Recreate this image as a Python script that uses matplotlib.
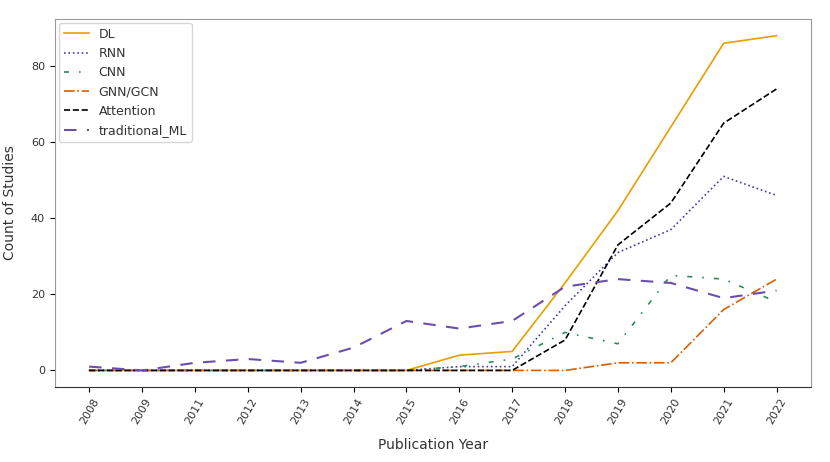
import numpy as np
import matplotlib.pyplot as plt

years = ['2008', '2009', '2011', '2012', '2013', '2014', '2015',
         '2016', '2017', '2018', '2019', '2020', '2021', '2022']

dl = [0, 0, 0, 0, 0, 0, 0, 4, 5, 23, 42, 64, 86, 88]
rnn = [0, 0, 0, 0, 0, 0, 0, 1, 1, 17, 31, 37, 51, 46]
cnn = [0, 0, 0, 0, 0, 0, 0, 1, 3, 10, 7, 25, 24, 18]
gnn = [0, 0, 0, 0, 0, 0, 0, 0, 0, 0, 2, 2, 16, 24]
attention = [0, 0, 0, 0, 0, 0, 0, 0, 0, 8, 33, 44, 65, 74]
trad_ml = [1, 0, 2, 3, 2, 6, 13, 11, 13, 22, 24, 23, 19, 21]

plt.rcParams['text.color'] = '#333333'
plt.rcParams['axes.labelcolor'] = '#333333'
plt.rcParams['xtick.labelcolor'] = '#333333'
plt.rcParams['ytick.labelcolor'] = '#333333'

fig = plt.figure(figsize=(8.3, 4.62), dpi=100)
ax = fig.add_axes([0.066, 0.162, 0.911, 0.797])

x = np.arange(len(years))
ax.plot(x, dl, color='#e69f00', linestyle='-', lw=1.2, label='DL')
ax.plot(x, rnn, color='#4b3bb0', linestyle=':', lw=1.2, label='RNN')
ax.plot(x, cnn, color='#2e8b57', linestyle=(0, (3, 6, 1, 6)), lw=1.2, label='CNN')
ax.plot(x, gnn, color='#d95f02', linestyle='-.', lw=1.2, label='GNN/GCN')
ax.plot(x, attention, color='black', linestyle='--', lw=1.2, label='Attention')
ax.plot(x, trad_ml, color='#6a4fae', linestyle=(0, (6, 5)), lw=1.5, label='traditional_ML')

ax.set_xticks(x)
ax.set_xticklabels(years, rotation=60, fontsize=8)
ax.tick_params(axis='y', labelsize=8)
ax.set_yticks([0, 20, 40, 60, 80])
ax.set_xlabel('Publication Year', fontsize=10, labelpad=8)
ax.set_ylabel('Count of Studies', fontsize=10, labelpad=10)

for side in ['top', 'right', 'left']:
    ax.spines[side].set_color('#999999')
ax.spines['bottom'].set_color('#333333')

ax.legend(loc='upper left', fontsize=9, borderaxespad=0.3)

fig.savefig('out.png', dpi=100)
